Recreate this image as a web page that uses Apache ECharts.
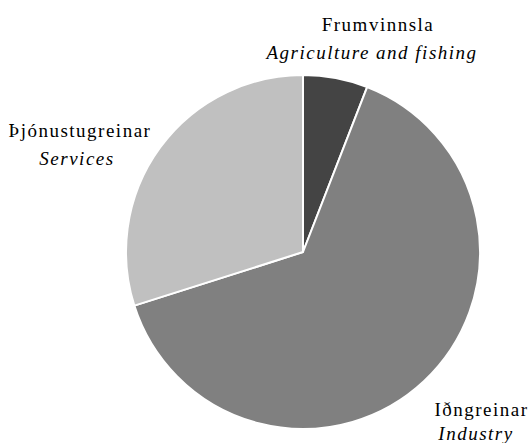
<!DOCTYPE html>
<html lang="is">
<head>
	<meta charset="UTF-8">
	<title>Frumvinnsla, iðngreinar, þjónustugreinar</title>
	<style>
		html, body { margin: 0; padding: 0; background: #fff; }
		/* upprunalega myndin er með bil milli stafa */
		#chart text { letter-spacing: 1.5px; }
	</style>
</head>
<body>
<div id="chart" style="width:532px;height:443px;"></div>
<script src="https://cdn.jsdelivr.net/npm/echarts@6/dist/echarts.min.js"></script>
<script>
// atvinnugreinar - íslensk nöfn og ensk
var namesIs = ['Frumvinnsla', 'Iðngreinar', 'Þjónustugreinar'];
var namesEn = ['Agriculture and fishing', 'Industry', 'Services'];
var shares = [5.9, 64.2, 29.9];
var colors = ['#444444', '#808080', '#c0c0c0'];

// hvar merkin eiga að vera (miðja ensku línunnar)
var labelPos = [[372, 38], [476, 421], [77, 144]];
var lineGap = [28, 24, 28];
var shiftIs = [12, 11, 6]; // íslenska línan aðeins til hægri

var myChart = echarts.init(document.getElementById('chart'), null, { renderer: 'svg' });

var data = shares.map(function (v, i) {
	return {
		name: namesIs[i],
		value: v,
		itemStyle: { color: colors[i] },
		label: {
			rich: {
				a: { fontFamily: 'Liberation Serif', fontSize: 19, color: '#000', lineHeight: lineGap[i], padding: [0, 0, 0, shiftIs[i]] },
				b: { fontFamily: 'Liberation Serif', fontSize: 19, fontStyle: 'italic', color: '#000', lineHeight: lineGap[i] }
			}
		}
	};
});

var option = {
	animation: false,
	backgroundColor: '#fff',
	series: [{
		type: 'pie',
		center: [303, 252],
		radius: 177,
		startAngle: 90,
		clockwise: true,
		data: data,
		itemStyle: { borderColor: '#fff', borderWidth: 2 },
		emphasis: { disabled: true },
		label: {
			show: true,
			position: 'outside',
			align: 'center',
			overflow: 'none',
			edgeDistance: 0,
			formatter: function (p) {
				return '{a|' + namesIs[p.dataIndex] + '}\n{b|' + namesEn[p.dataIndex] + '}';
			}
		},
		labelLine: { show: false },
		labelLayout: function (params) {
			var pos = labelPos[params.dataIndex];
			return { x: pos[0], y: pos[1], align: 'center', verticalAlign: 'middle', width: 300 };
		}
	}]
};
myChart.setOption(option);
</script>
</body>
</html>
